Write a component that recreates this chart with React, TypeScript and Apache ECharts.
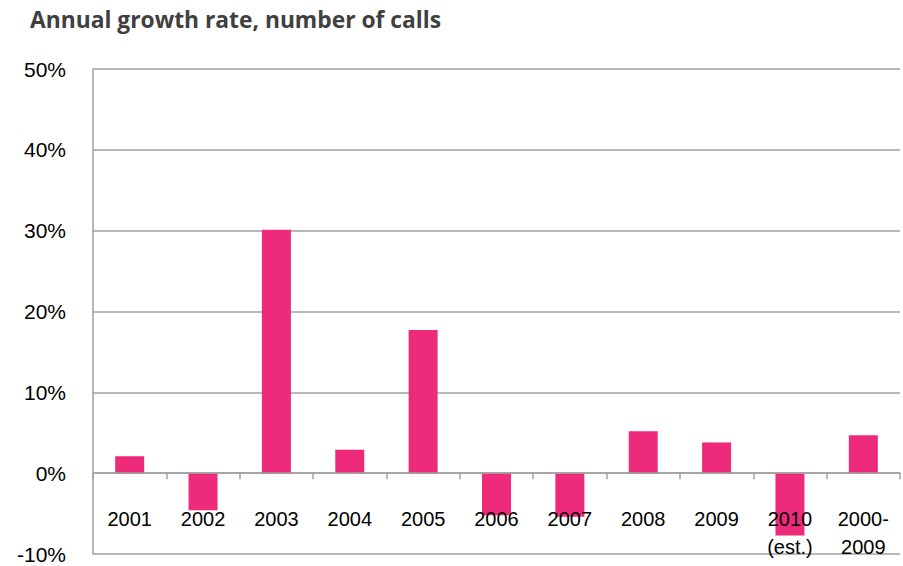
import React, { useEffect, useRef } from "react";
import * as echarts from "echarts";

const categories = ["2001", "2002", "2003", "2004", "2005", "2006", "2007", "2008", "2009", "2010\n(est.)", "2000-\n2009"];
const growthRates = [2.1, -4.6, 30.1, 2.9, 17.7, -5.2, -5.4, 5.2, 3.8, -7.7, 4.7];
const yTicks = { min: -10, max: 50, interval: 10 };
const titleText = "Annual growth rate, number of calls";

export default function App() {
  const ref = useRef<HTMLDivElement>(null);
  useEffect(() => {
    if (!ref.current) return;
    const chart = echarts.init(ref.current, null, { renderer: "svg" });
    chart.setOption({
      animation: false,
      backgroundColor: "#ffffff",
      title: {
        text: titleText,
        left: 25,
        top: 3,
        textStyle: { fontFamily: "Open Sans", fontWeight: "bold", fontSize: 22.8, color: "#404040" },
      },
      grid: { left: 93, right: 3, top: 69, bottom: 12, containLabel: false, outerBoundsMode: "none" },
      xAxis: {
        type: "category",
        data: categories,
        z: 10,
        axisLine: { onZero: true, lineStyle: { color: "#a0a0a0", width: 1.5 } },
        axisTick: { show: true, length: 6, lineStyle: { color: "#a0a0a0", width: 1.5 } },
        axisLabel: {
          margin: -49,
          fontFamily: "Liberation Sans",
          fontSize: 20,
          lineHeight: 28,
          color: "#000000",
          interval: 0,
        },
        splitLine: { show: false },
      },
      yAxis: {
        type: "value",
        min: yTicks.min,
        max: yTicks.max,
        interval: yTicks.interval,
        axisLine: { show: true, lineStyle: { color: "#a0a0a0", width: 1.5 } },
        axisTick: { show: false },
        axisLabel: {
          margin: 27,
          fontFamily: "Liberation Sans",
          fontSize: 21,
          color: "#000000",
          formatter: "{value}%",
        },
        splitLine: { show: true, lineStyle: { color: "#a0a0a0", width: 1.5 } },
      },
      series: [
        {
          type: "bar",
          data: growthRates,
          barWidth: 29,
          itemStyle: { color: "#ee2a7b" },
        },
      ],
    });
    return () => chart.dispose();
  }, []);
  return (
    <div style={{ position: "absolute", left: 0, top: 0 }}>
      <div ref={ref} style={{ width: 903, height: 566 }} />
    </div>
  );
}
